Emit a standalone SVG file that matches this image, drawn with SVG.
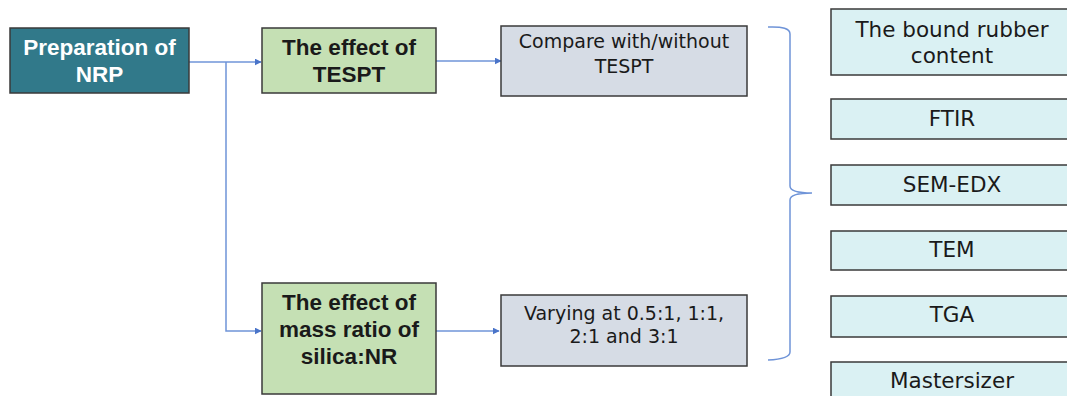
<svg xmlns="http://www.w3.org/2000/svg" width="1067" height="396" viewBox="0 0 1067 396">
  <style>
    .box { stroke: #3a3a3a; stroke-width: 1.5; }
    .teal { fill: #31798a; }
    .green { fill: #c5e0b4; }
    .grey { fill: #d6dce5; }
    .cyan { fill: #daf1f3; }
    .t { text-anchor: middle; fill: #1a1a1a; }
    .b { font-family: "Liberation Sans", Arial, sans-serif; font-weight: bold; font-size: 22.5px; }
    .n { font-family: "DejaVu Sans", sans-serif; font-size: 19px; }
    .r { font-family: "DejaVu Sans", sans-serif; font-size: 21.5px; }
    .w { fill: #ffffff; }
    .link { fill: none; stroke: #6f94d8; stroke-width: 1.5; }
  </style>
  <defs>
    <marker id="arr" viewBox="0 0 10 10" refX="9" refY="5" markerWidth="7" markerHeight="7" markerUnits="userSpaceOnUse" orient="auto">
      <path d="M0,0 L10,5 L0,10 Z" fill="#4a74c9"/>
    </marker>
  </defs>

  <!-- connectors -->
  <g id="connectors">
    <path class="link" d="M189,62 H261" marker-end="url(#arr)"/>
    <path class="link" d="M226,62 V331 H261" marker-end="url(#arr)"/>
    <path class="link" d="M436,61 H501" marker-end="url(#arr)"/>
    <path class="link" d="M436,331 H499" marker-end="url(#arr)"/>
    <path class="link" d="M768,27 Q790,26 790,34 V186 Q790,193 812,193 Q790,193 790,200 V352 Q790,359 768,360"/>
  </g>

  <g id="prep">
    <rect class="box teal" x="10" y="28" width="179" height="65"/>
    <text class="t b w" x="99.5" y="55">Preparation of</text>
    <text class="t b w" x="99.5" y="82">NRP</text>
  </g>

  <g id="effect-tespt">
    <rect class="box green" x="262" y="28" width="174" height="65"/>
    <text class="t b" x="349" y="55">The effect of</text>
    <text class="t b" x="349" y="82">TESPT</text>
  </g>

  <g id="compare">
    <rect class="box grey" x="501" y="26" width="246" height="70"/>
    <text class="t n" x="624" y="48">Compare with/without</text>
    <text class="t n" x="624" y="73">TESPT</text>
  </g>

  <g id="effect-ratio">
    <rect class="box green" x="262" y="283" width="174" height="111"/>
    <text class="t b" x="349" y="310">The effect of</text>
    <text class="t b" x="349" y="337">mass ratio of</text>
    <text class="t b" x="349" y="364">silica:NR</text>
  </g>

  <g id="varying">
    <rect class="box grey" x="501" y="295" width="246" height="71"/>
    <text class="t n" x="624" y="320">Varying at 0.5:1, 1:1,</text>
    <text class="t n" x="624" y="343">2:1 and 3:1</text>
  </g>

  <g id="bound-rubber">
    <rect class="box cyan" x="831" y="9" width="240" height="66"/>
    <text class="t r" x="952" y="37">The bound rubber</text>
    <text class="t r" x="952" y="63">content</text>
  </g>
  <g id="ftir">
    <rect class="box cyan" x="831" y="99" width="240" height="40"/>
    <text class="t r" x="952" y="126">FTIR</text>
  </g>
  <g id="sem-edx">
    <rect class="box cyan" x="831" y="165" width="240" height="40"/>
    <text class="t r" x="952" y="192">SEM-EDX</text>
  </g>
  <g id="tem">
    <rect class="box cyan" x="831" y="231" width="240" height="39"/>
    <text class="t r" x="952" y="257">TEM</text>
  </g>
  <g id="tga">
    <rect class="box cyan" x="831" y="296" width="240" height="41"/>
    <text class="t r" x="952" y="322">TGA</text>
  </g>
  <g id="mastersizer">
    <rect class="box cyan" x="831" y="362" width="240" height="40"/>
    <text class="t r" x="952" y="388">Mastersizer</text>
  </g>
</svg>
